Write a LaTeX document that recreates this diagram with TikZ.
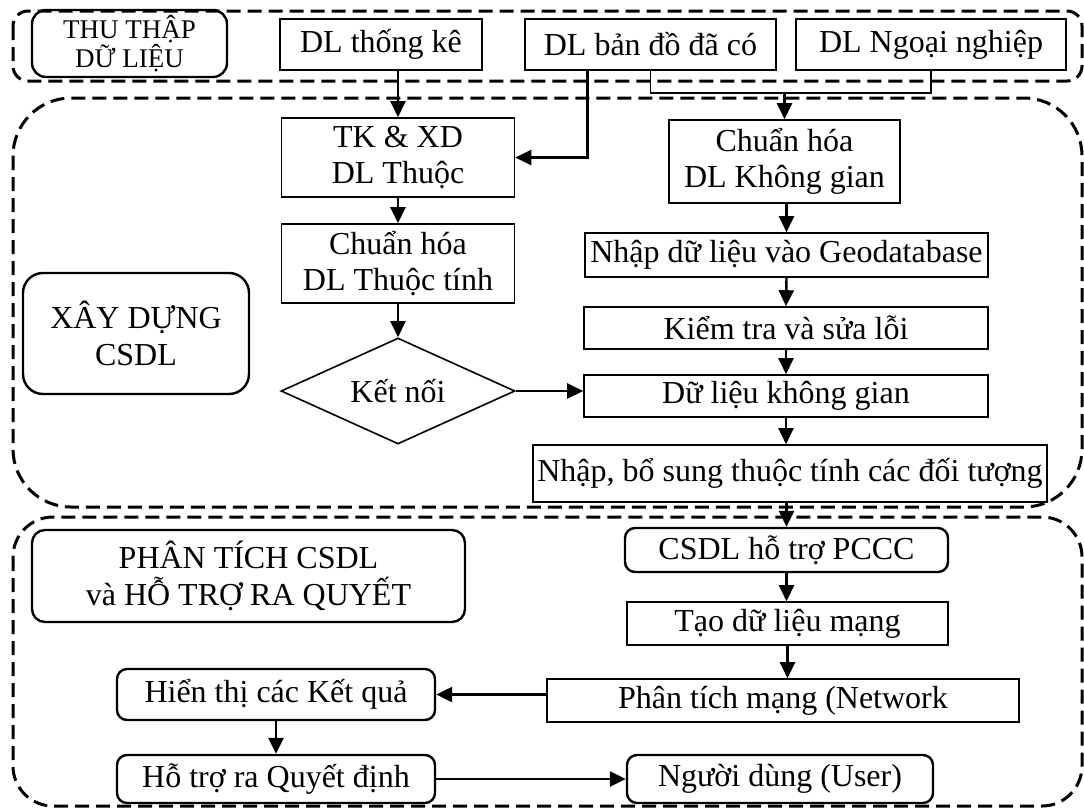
\documentclass[tikz,border=0pt]{standalone}
\usepackage{fontspec}
\setmainfont{Liberation Serif}
\usetikzlibrary{shapes.geometric,arrows.meta,positioning,calc}
\newcommand{\boxfont}{\fontsize{32}{36.5}\selectfont}
\newcommand{\smallboxfont}{\fontsize{27}{27}\selectfont}

\begin{document}
\begin{tikzpicture}[
    x=1pt, y=1pt,
    >={Triangle[length=16pt,width=15pt]},
    box/.style={rectangle, draw, line width=1.6pt, inner sep=0pt, align=center, font=\boxfont},
    rbox/.style={box, rounded corners=10pt, line width=2.4pt},
    region/.style={draw, line width=3pt, dash pattern=on 14pt off 7pt},
    link/.style={->, line width=2.4pt}
]
    \useasboundingbox (0,0) rectangle (1084,-809);

    % Dashed regions
    \draw[region, rounded corners=15pt] (13,-11) rectangle (1082,-81);
    \draw[region, rounded corners=58pt] (13,-98) rectangle (1082,-507);
    \draw[region, rounded corners=40pt] (13,-517) rectangle (1082,-806);

    % Thu thap du lieu
    \node[rbox, font=\smallboxfont, rounded corners=14pt, minimum width=195pt, minimum height=67pt] (thu) at (129.5,-43.5) {THU THẬP\\DỮ LIỆU};
    \node[box, minimum width=202pt, minimum height=51pt] (tk) at (381,-44.5) {DL thống kê};
    \node[box, minimum width=251pt, minimum height=51pt] (bd) at (650.5,-44.5) {DL bản đồ đã có};
    \node[box, minimum width=270pt, minimum height=51pt] (nn) at (931,-44.5) {DL Ngoại nghiệp};

    % Xay dung CSDL
    \node[rbox, rounded corners=20pt, minimum width=226pt, minimum height=121pt] (xd) at (136,-333.5) {XÂY DỰNG\\CSDL};
    \node[box, minimum width=233pt, minimum height=79pt] (tkxd) at (398,-157.5) {TK \& XD\\DL Thuộc};
    \node[box, minimum width=233pt, minimum height=79pt] (chtt) at (398,-263.5) {Chuẩn hóa\\DL Thuộc tính};
    \node[box, diamond, aspect=2.2, minimum width=234pt, minimum height=106pt] (kn) at (398,-391) {Kết nối};
    \node[box, minimum width=231pt, minimum height=83pt] (chkg) at (784.5,-161.5) {Chuẩn hóa\\DL Không gian};
    \node[box, minimum width=403pt, minimum height=44pt] (gdb) at (786.5,-255) {Nhập dữ liệu vào Geodatabase};
    \node[box, minimum width=404pt, minimum height=42pt] (kt) at (786,-328) {Kiểm tra và sửa lỗi};
    \node[box, minimum width=404pt, minimum height=42pt] (dlkg) at (786,-396) {Dữ liệu không gian};
    \node[box, minimum width=514pt, minimum height=57pt] (nbs) at (790,-473.5) {Nhập, bổ sung thuộc tính các đối tượng};

    % Phan tich CSDL
    \node[rbox, rounded corners=13pt, minimum width=433pt, minimum height=92pt] (pt) at (248.5,-576) {PHÂN TÍCH CSDL\\và HỖ TRỢ RA QUYẾT};
    \node[rbox, minimum width=323pt, minimum height=44pt] (pccc) at (786.5,-550) {CSDL hỗ trợ PCCC};
    \node[box, minimum width=321pt, minimum height=43pt] (tao) at (787.5,-623.5) {Tạo dữ liệu mạng};
    \node[box, minimum width=472pt, minimum height=43pt] (ptm) at (783,-700.5) {Phân tích mạng (Network};
    \node[rbox, minimum width=318pt, minimum height=51pt] (hien) at (276,-694.5) {Hiển thị các Kết quả};
    \node[rbox, minimum width=318pt, minimum height=48pt] (hotro) at (276,-779) {Hỗ trợ ra Quyết định};
    \node[rbox, minimum width=306pt, minimum height=48pt] (nd) at (780,-779) {Người dùng (User)};

    % Connectors
    \draw[link] (tk.south -| tkxd.north) -- (tkxd.north);
    \coordinate (bdl) at ($(bd.south west)!0.25!(bd.south east)$);
    \draw[link] (bdl) |- (tkxd.east);
    \coordinate (mrg) at ($(bd.south)+(0,-22)$);
    \draw[line width=1.6pt] (bd.south) -- (mrg) -| (nn.south);
    \draw[link] (mrg -| chkg.north) -- (chkg.north);
    \draw[link] (chkg.south -| gdb.north) -- (gdb.north);
    \draw[link] (gdb.south) -- (kt.north);
    \draw[link] (kt.south) -- (dlkg.north);
    \draw[link] (dlkg.south) -- (dlkg.south |- nbs.north);
    \draw[link] (tkxd.south) -- (chtt.north);
    \draw[link] (chtt.south) -- (kn.north);
    \draw[link] (kn.east) -- (kn.east -| dlkg.west);
    \draw[link] (nbs.south -| pccc.north) -- (pccc.north);
    \draw[link] (pccc.south) -- (pccc.south |- tao.north);
    \draw[link] (tao.south) -- (tao.south |- ptm.north);
    \draw[link] (ptm.west |- hien.east) -- (hien.east);
    \draw[link] (hien.south) -- (hotro.north);
    \draw[link] (hotro.east) -- (nd.west);
\end{tikzpicture}
\end{document}
